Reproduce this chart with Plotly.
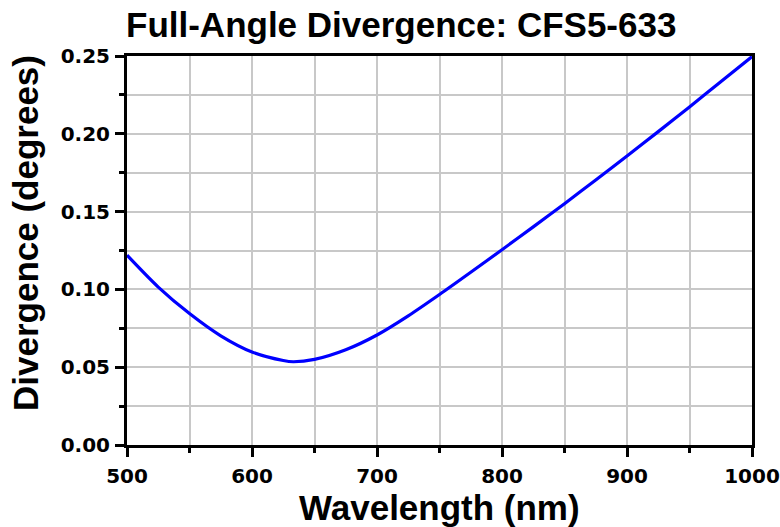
import plotly.graph_objects as go

wavelength_nm = [500, 525, 550, 575, 600, 625, 633, 650, 675, 700, 725, 750,
                 775, 800, 825, 850, 875, 900, 925, 950, 975, 1000]
divergence_deg = [0.1220, 0.1015, 0.0845, 0.0702, 0.0598, 0.0543, 0.0535, 0.0550,
                  0.0612, 0.0707, 0.0830, 0.0967, 0.1110, 0.1255, 0.1402, 0.1551,
                  0.1703, 0.1857, 0.2014, 0.2173, 0.2334, 0.2496]

title_text = "Full-Angle Divergence: CFS5-633"
x_title = "Wavelength (nm)"
y_title = "Divergence (degrees)"

W, H = 780, 527
L, R, T, B = 127, 28, 56, 82
pw, ph = W - L - R, H - T - B

def px(xp):
    return (xp - L) / pw

def py(yp):
    return (H - B - yp) / ph

grid = "#c8c8c8"
tickfont = dict(family="DejaVu Sans", size=20, color="black", weight="bold")
titlefont = dict(family="Liberation Sans", size=35, color="black", weight="bold")

fig = go.Figure()
fig.add_trace(go.Scatter(x=wavelength_nm, y=divergence_deg, mode="lines",
                         line=dict(color="#0000ff", width=3.2, shape="spline", smoothing=0.8),
                         showlegend=False, cliponaxis=False))

fig.update_xaxes(range=[500, 1000], dtick=100, tick0=500, automargin=False,
                 showline=True, linewidth=3, linecolor="black", mirror=True,
                 ticks="outside", ticklen=9, tickwidth=3, tickcolor="black",
                 ticklabelstandoff=2,
                 showgrid=True, gridcolor=grid, gridwidth=2,
                 zeroline=False, tickfont=tickfont,
                 minor=dict(dtick=50, tick0=500, ticks="outside", ticklen=5,
                            tickwidth=3, tickcolor="black",
                            showgrid=True, gridcolor=grid, gridwidth=2))
fig.update_yaxes(range=[0, 0.25], dtick=0.05, tick0=0, tickformat=".2f", automargin=False,
                 showline=True, linewidth=3, linecolor="black", mirror=True,
                 ticks="outside", ticklen=9, tickwidth=3, tickcolor="black",
                 ticklabelstandoff=1,
                 showgrid=True, gridcolor=grid, gridwidth=2,
                 zeroline=False, tickfont=tickfont,
                 minor=dict(dtick=0.025, tick0=0, ticks="outside", ticklen=5,
                            tickwidth=3, tickcolor="black",
                            showgrid=True, gridcolor=grid, gridwidth=2))

fig.add_annotation(text=title_text, xref="paper", yref="paper",
                   x=px(401), y=py(24), xanchor="center", yanchor="middle",
                   showarrow=False, font=titlefont)
fig.add_annotation(text=x_title, xref="paper", yref="paper",
                   x=px(439), y=py(507), xanchor="center", yanchor="middle",
                   showarrow=False, font=titlefont)
fig.add_annotation(text=y_title, xref="paper", yref="paper",
                   x=px(25), y=py(233), xanchor="center", yanchor="middle",
                   textangle=-90, showarrow=False, font=titlefont)

fig.update_layout(width=W, height=H, margin=dict(l=L, r=R, t=T, b=B),
                  plot_bgcolor="white", paper_bgcolor="white")

fig.write_html("out.html")
